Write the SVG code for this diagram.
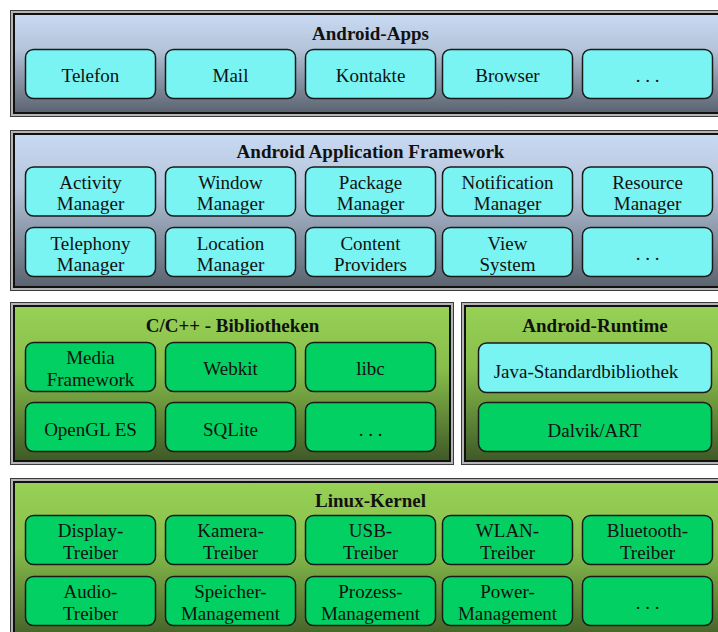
<svg xmlns="http://www.w3.org/2000/svg" width="718" height="632" viewBox="0 0 718 632">
<defs>
<linearGradient id="gBlue" x1="0" y1="0" x2="0" y2="1">
<stop offset="0" stop-color="#C8DAF2"/>
<stop offset="0.35" stop-color="#B4C4DA"/>
<stop offset="1" stop-color="#5A626E"/>
</linearGradient>
<linearGradient id="gGreen" x1="0" y1="0" x2="0" y2="1">
<stop offset="0" stop-color="#97D155"/>
<stop offset="0.4" stop-color="#88BE4C"/>
<stop offset="1" stop-color="#3E5926"/>
</linearGradient>
</defs>
<style>
.fo{fill:#B4B4B4;stroke:#3C3C3C;stroke-width:1}
.fb{fill:url(#gBlue);stroke:#111;stroke-width:2}
.fg{fill:url(#gGreen);stroke:#111;stroke-width:2}
.bc{fill:#7AF4F2;stroke:#1A1A1A;stroke-width:1.5}
.bg{fill:#02D062;stroke:#1A1A1A;stroke-width:1.5}
text{font-family:"Liberation Serif","Times New Roman",serif;font-size:19px;fill:#111;text-anchor:middle}
.t{font-weight:bold}
</style>

<g id="layer-apps">
<rect class="fo" x="10.5" y="10.5" width="720" height="106"/>
<rect class="fb" x="14" y="14" width="712" height="99"/>
<text class="t" x="370.5" y="40">Android-Apps</text>
</g>
<g id="telefon"><rect class="bc" x="25.5" y="49.5" width="130" height="49" rx="8"/><text x="90.5" y="82">Telefon</text></g>
<g id="mail"><rect class="bc" x="165.5" y="49.5" width="130" height="49" rx="8"/><text x="230.5" y="82">Mail</text></g>
<g id="kontakte"><rect class="bc" x="305.5" y="49.5" width="130" height="49" rx="8"/><text x="370.5" y="82">Kontakte</text></g>
<g id="browser"><rect class="bc" x="442.5" y="49.5" width="130" height="49" rx="8"/><text x="507.5" y="82">Browser</text></g>
<g id="apps-more"><rect class="bc" x="582.5" y="49.5" width="130" height="49" rx="8"/><text x="647.5" y="82">. . .</text></g>

<g id="layer-framework">
<rect class="fo" x="10.5" y="130.5" width="720" height="160"/>
<rect class="fb" x="14" y="134" width="712" height="153"/>
<text class="t" x="370.5" y="158">Android Application Framework</text>
</g>
<g id="activity-manager"><rect class="bc" x="25.5" y="167" width="130" height="49" rx="8"/><text x="90.5" y="188.5">Activity</text><text x="90.5" y="210">Manager</text></g>
<g id="window-manager"><rect class="bc" x="165.5" y="167" width="130" height="49" rx="8"/><text x="230.5" y="188.5">Window</text><text x="230.5" y="210">Manager</text></g>
<g id="package-manager"><rect class="bc" x="305.5" y="167" width="130" height="49" rx="8"/><text x="370.5" y="188.5">Package</text><text x="370.5" y="210">Manager</text></g>
<g id="notification-manager"><rect class="bc" x="442.5" y="167" width="130" height="49" rx="8"/><text x="507.5" y="188.5">Notification</text><text x="507.5" y="210">Manager</text></g>
<g id="resource-manager"><rect class="bc" x="582.5" y="167" width="130" height="49" rx="8"/><text x="647.5" y="188.5">Resource</text><text x="647.5" y="210">Manager</text></g>
<g id="telephony-manager"><rect class="bc" x="25.5" y="227.5" width="130" height="49" rx="8"/><text x="90.5" y="249.5">Telephony</text><text x="90.5" y="271">Manager</text></g>
<g id="location-manager"><rect class="bc" x="165.5" y="227.5" width="130" height="49" rx="8"/><text x="230.5" y="249.5">Location</text><text x="230.5" y="271">Manager</text></g>
<g id="content-providers"><rect class="bc" x="305.5" y="227.5" width="130" height="49" rx="8"/><text x="370.5" y="249.5">Content</text><text x="370.5" y="271">Providers</text></g>
<g id="view-system"><rect class="bc" x="442.5" y="227.5" width="130" height="49" rx="8"/><text x="507.5" y="249.5">View</text><text x="507.5" y="271">System</text></g>
<g id="framework-more"><rect class="bc" x="582.5" y="227.5" width="130" height="49" rx="8"/><text x="647.5" y="260">. . .</text></g>

<g id="layer-libraries">
<rect class="fo" x="10.5" y="302.5" width="443" height="162"/>
<rect class="fg" x="14" y="306" width="436" height="155"/>
<text class="t" x="232.5" y="331.5">C/C++ - Bibliotheken</text>
</g>
<g id="media-framework"><rect class="bg" x="25.5" y="342.5" width="130" height="49" rx="8"/><text x="90.5" y="364">Media</text><text x="90.5" y="385.5">Framework</text></g>
<g id="webkit"><rect class="bg" x="165.5" y="342.5" width="130" height="49" rx="8"/><text x="230.5" y="375">Webkit</text></g>
<g id="libc"><rect class="bg" x="305.5" y="342.5" width="130" height="49" rx="8"/><text x="370.5" y="375">libc</text></g>
<g id="opengl-es"><rect class="bg" x="25.5" y="402.5" width="130" height="49" rx="8"/><text x="90.5" y="436">OpenGL ES</text></g>
<g id="sqlite"><rect class="bg" x="165.5" y="402.5" width="130" height="49" rx="8"/><text x="230.5" y="436">SQLite</text></g>
<g id="libraries-more"><rect class="bg" x="305.5" y="402.5" width="130" height="49" rx="8"/><text x="370.5" y="436">. . .</text></g>

<g id="layer-runtime">
<rect class="fo" x="461.5" y="302.5" width="270" height="162"/>
<rect class="fg" x="465" y="306" width="263" height="155"/>
<text class="t" x="595" y="331.5">Android-Runtime</text>
</g>
<g id="java-standardbibliothek"><rect class="bc" x="478.5" y="343" width="233" height="49.5" rx="8"/><text x="586" y="377.5">Java-Standardbibliothek</text></g>
<g id="dalvik-art"><rect class="bg" x="478.5" y="402.5" width="233" height="49" rx="8"/><text x="594.5" y="437">Dalvik/ART</text></g>

<g id="layer-kernel">
<rect class="fo" x="10.5" y="478.5" width="720" height="170"/>
<rect class="fg" x="14" y="482" width="712" height="163"/>
<text class="t" x="370.5" y="507">Linux-Kernel</text>
</g>
<g id="display-treiber"><rect class="bg" x="25.5" y="515.5" width="130" height="49" rx="8"/><text x="90.5" y="537">Display-</text><text x="90.5" y="558.5">Treiber</text></g>
<g id="kamera-treiber"><rect class="bg" x="165.5" y="515.5" width="130" height="49" rx="8"/><text x="230.5" y="537">Kamera-</text><text x="230.5" y="558.5">Treiber</text></g>
<g id="usb-treiber"><rect class="bg" x="305.5" y="515.5" width="130" height="49" rx="8"/><text x="370.5" y="537">USB-</text><text x="370.5" y="558.5">Treiber</text></g>
<g id="wlan-treiber"><rect class="bg" x="442.5" y="515.5" width="130" height="49" rx="8"/><text x="507.5" y="537">WLAN-</text><text x="507.5" y="558.5">Treiber</text></g>
<g id="bluetooth-treiber"><rect class="bg" x="582.5" y="515.5" width="130" height="49" rx="8"/><text x="647.5" y="537">Bluetooth-</text><text x="647.5" y="558.5">Treiber</text></g>
<g id="audio-treiber"><rect class="bg" x="25.5" y="576.5" width="130" height="49" rx="8"/><text x="90.5" y="598">Audio-</text><text x="90.5" y="619.5">Treiber</text></g>
<g id="speicher-management"><rect class="bg" x="165.5" y="576.5" width="130" height="49" rx="8"/><text x="230.5" y="598">Speicher-</text><text x="230.5" y="619.5">Management</text></g>
<g id="prozess-management"><rect class="bg" x="305.5" y="576.5" width="130" height="49" rx="8"/><text x="370.5" y="598">Prozess-</text><text x="370.5" y="619.5">Management</text></g>
<g id="power-management"><rect class="bg" x="442.5" y="576.5" width="130" height="49" rx="8"/><text x="507.5" y="598">Power-</text><text x="507.5" y="619.5">Management</text></g>
<g id="kernel-more"><rect class="bg" x="582.5" y="576.5" width="130" height="49" rx="8"/><text x="647.5" y="609">. . .</text></g>
</svg>
